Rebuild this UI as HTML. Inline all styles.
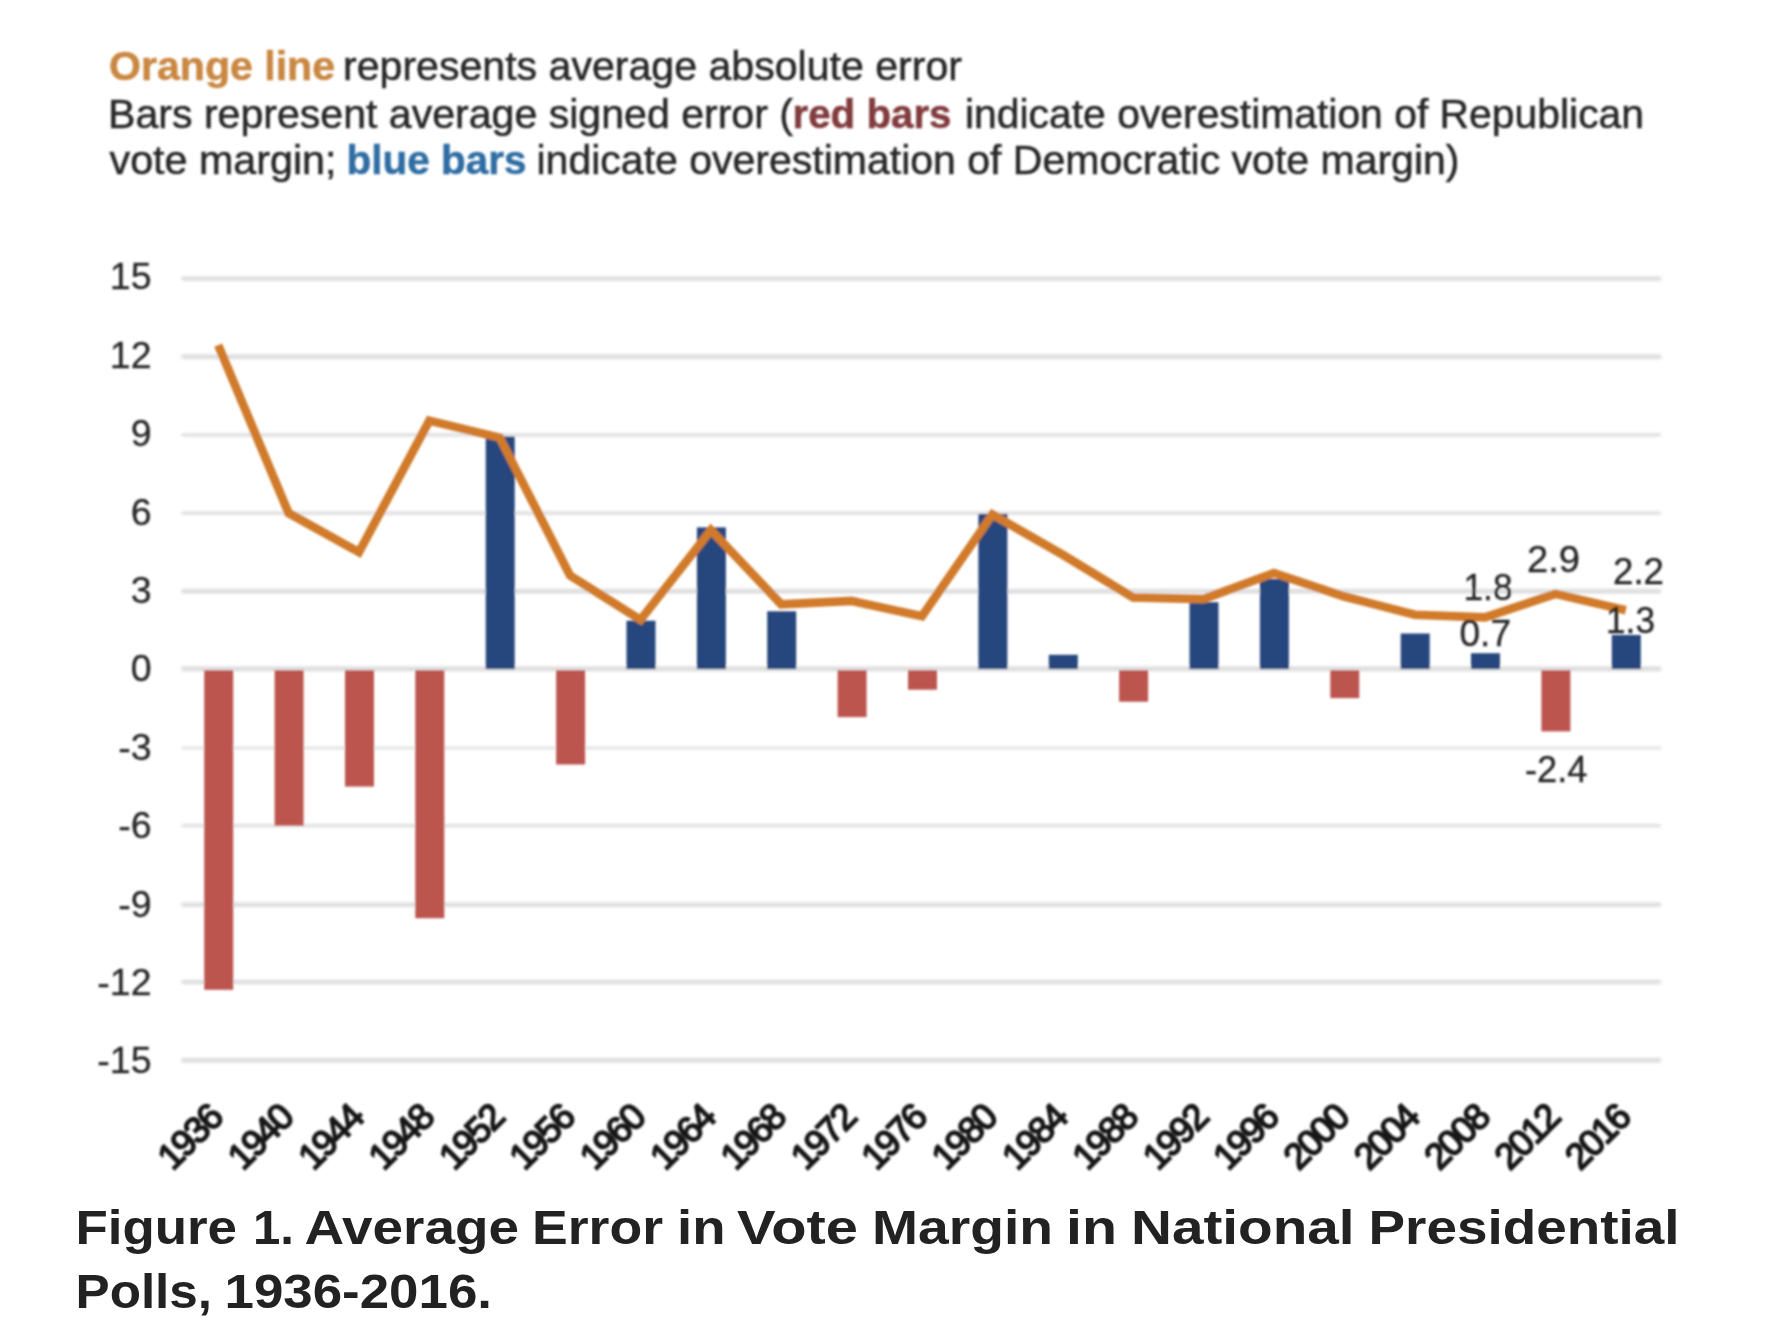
<!DOCTYPE html>
<html lang="en"><head><meta charset="utf-8"><title>Figure 1. Average Error in Vote Margin in National Presidential Polls, 1936-2016.</title>
<style>
html,body{margin:0;padding:0;background:#fff;}
body{width:1768px;height:1320px;overflow:hidden;position:relative;font-family:"Liberation Sans",sans-serif;}
figure,figcaption{margin:0;padding:0;display:block;}
svg{position:absolute;left:0;top:0;display:block;}
.chart text{font-family:"Liberation Sans",sans-serif;fill:#262626;stroke:#262626;stroke-width:0.5px;}
.cap text{font-family:"Liberation Sans",sans-serif;font-weight:bold;font-size:48px;fill:#222;}
</style></head><body>
<figure>
<svg class="chart" role="img" aria-label="Average error in vote margin in national presidential polls, 1936-2016" width="1768" height="1190" viewBox="0 0 1768 1190">
<defs><filter id="bl" x="-5%" y="-5%" width="110%" height="110%"><feGaussianBlur stdDeviation="1.05"/></filter><filter id="bl2" filterUnits="userSpaceOnUse" x="0" y="0" width="1768" height="1190"><feGaussianBlur stdDeviation="1.5 1.0"/></filter></defs>
<g filter="url(#bl)">
<text x="109.0" y="80.0" font-size="40.5" textLength="226.0" lengthAdjust="spacingAndGlyphs" font-weight="bold" style="fill:#c98742;stroke:#c98742">Orange line</text>
<text x="343.0" y="80.0" font-size="40.5" textLength="619.0" lengthAdjust="spacingAndGlyphs">represents average absolute error</text>
<text x="108.0" y="127.5" font-size="40.5" textLength="685.0" lengthAdjust="spacingAndGlyphs">Bars represent average signed error (</text>
<text x="792.5" y="127.5" font-size="40.5" textLength="159.0" lengthAdjust="spacingAndGlyphs" font-weight="bold" style="fill:#813a3c;stroke:#813a3c">red bars</text>
<text x="965.0" y="127.5" font-size="40.5" textLength="679.0" lengthAdjust="spacingAndGlyphs">indicate overestimation of Republican</text>
<text x="109.5" y="174.0" font-size="40.5" textLength="227.0" lengthAdjust="spacingAndGlyphs">vote margin;</text>
<text x="346.5" y="174.0" font-size="40.5" textLength="180.0" lengthAdjust="spacingAndGlyphs" font-weight="bold" style="fill:#2f6da3;stroke:#2f6da3">blue bars</text>
<text x="536.5" y="174.0" font-size="40.5" textLength="923.0" lengthAdjust="spacingAndGlyphs">indicate overestimation of Democratic vote margin)</text>
<g filter="url(#bl2)">
<line x1="181.5" y1="1060.2" x2="1661.0" y2="1060.2" stroke="#dcdcdc" stroke-width="4.4"/>
<line x1="181.5" y1="982.0" x2="1661.0" y2="982.0" stroke="#dcdcdc" stroke-width="4.2"/>
<line x1="181.5" y1="904.6" x2="1661.0" y2="904.6" stroke="#dcdcdc" stroke-width="4.2"/>
<line x1="181.5" y1="825.7" x2="1661.0" y2="825.7" stroke="#dcdcdc" stroke-width="3.0"/>
<line x1="181.5" y1="748.0" x2="1661.0" y2="748.0" stroke="#dcdcdc" stroke-width="2.6"/>
<line x1="181.5" y1="668.9" x2="1661.0" y2="668.9" stroke="#dcdcdc" stroke-width="4.6"/>
<line x1="181.5" y1="591.2" x2="1661.0" y2="591.2" stroke="#dcdcdc" stroke-width="4.4"/>
<line x1="181.5" y1="513.1" x2="1661.0" y2="513.1" stroke="#dcdcdc" stroke-width="3.2"/>
<line x1="181.5" y1="434.9" x2="1661.0" y2="434.9" stroke="#dcdcdc" stroke-width="3.2"/>
<line x1="181.5" y1="356.8" x2="1661.0" y2="356.8" stroke="#dcdcdc" stroke-width="4.4"/>
<line x1="181.5" y1="278.6" x2="1661.0" y2="278.6" stroke="#dcdcdc" stroke-width="4.4"/>
</g>
<text x="151.5" y="1073.2" font-size="37.5" text-anchor="end" style="stroke-width:0.3px">-15</text>
<text x="151.5" y="994.9" font-size="37.5" text-anchor="end" style="stroke-width:0.3px">-12</text>
<text x="151.5" y="916.5" font-size="37.5" text-anchor="end" style="stroke-width:0.3px">-9</text>
<text x="151.5" y="838.1" font-size="37.5" text-anchor="end" style="stroke-width:0.3px">-6</text>
<text x="151.5" y="759.7" font-size="37.5" text-anchor="end" style="stroke-width:0.3px">-3</text>
<text x="151.5" y="681.3" font-size="37.5" text-anchor="end" style="stroke-width:0.3px">0</text>
<text x="151.5" y="602.9" font-size="37.5" text-anchor="end" style="stroke-width:0.3px">3</text>
<text x="151.5" y="524.5" font-size="37.5" text-anchor="end" style="stroke-width:0.3px">6</text>
<text x="151.5" y="446.1" font-size="37.5" text-anchor="end" style="stroke-width:0.3px">9</text>
<text x="151.5" y="367.7" font-size="37.5" text-anchor="end" style="stroke-width:0.3px">12</text>
<text x="151.5" y="289.3" font-size="37.5" text-anchor="end" style="stroke-width:0.3px">15</text>
<rect x="204.2" y="670.2" width="29" height="319.6" fill="#bd5550"/>
<rect x="274.6" y="670.2" width="29" height="155.5" fill="#bd5550"/>
<rect x="345.0" y="670.2" width="29" height="116.4" fill="#bd5550"/>
<rect x="415.3" y="670.2" width="29" height="248.0" fill="#bd5550"/>
<rect x="485.7" y="436.5" width="29" height="232.6" fill="#27477d"/>
<rect x="556.1" y="670.2" width="29" height="94.3" fill="#bd5550"/>
<rect x="626.5" y="620.7" width="29" height="48.4" fill="#27477d"/>
<rect x="696.9" y="527.4" width="29" height="141.7" fill="#27477d"/>
<rect x="767.2" y="611.3" width="29" height="57.8" fill="#27477d"/>
<rect x="837.6" y="670.2" width="29" height="46.9" fill="#bd5550"/>
<rect x="908.0" y="670.2" width="29" height="19.5" fill="#bd5550"/>
<rect x="978.4" y="513.9" width="29" height="155.2" fill="#27477d"/>
<rect x="1048.8" y="654.8" width="29" height="14.3" fill="#27477d"/>
<rect x="1119.1" y="670.2" width="29" height="31.5" fill="#bd5550"/>
<rect x="1189.5" y="602.2" width="29" height="66.9" fill="#27477d"/>
<rect x="1259.9" y="579.0" width="29" height="90.1" fill="#27477d"/>
<rect x="1330.3" y="670.2" width="29" height="27.9" fill="#bd5550"/>
<rect x="1400.7" y="633.5" width="29" height="35.6" fill="#27477d"/>
<rect x="1471.0" y="653.2" width="29" height="15.9" fill="#27477d"/>
<rect x="1541.4" y="670.2" width="29" height="61.2" fill="#bd5550"/>
<rect x="1611.8" y="635.0" width="29" height="34.1" fill="#27477d"/>
<polyline points="218.2,345.1 288.6,513.1 359.0,552.2 429.3,420.6 499.7,437.6 570.1,575.6 640.5,619.9 710.9,530.0 781.2,604.3 851.6,600.9 922.0,616.3 992.4,514.4 1062.8,554.8 1133.1,597.5 1203.5,599.1 1273.9,573.0 1344.3,596.5 1414.7,614.7 1485.0,617.3 1555.4,593.9 1625.8,610.3" fill="none" stroke="#d07a2a" stroke-width="8.6" stroke-linejoin="miter" stroke-miterlimit="3"/>
<text x="1463.5" y="600.0" font-size="37.5" textLength="49.0" lengthAdjust="spacingAndGlyphs" style="stroke-width:0.35px">1.8</text>
<text x="1527.0" y="572.0" font-size="37.5" textLength="53.0" lengthAdjust="spacingAndGlyphs" style="stroke-width:0.35px">2.9</text>
<text x="1613.0" y="584.0" font-size="37.5" textLength="51.0" lengthAdjust="spacingAndGlyphs" style="stroke-width:0.35px">2.2</text>
<text x="1606.0" y="632.5" font-size="37.5" textLength="49.0" lengthAdjust="spacingAndGlyphs" style="stroke-width:0.35px">1.3</text>
<text x="1459.5" y="645.5" font-size="37.5" textLength="51.5" lengthAdjust="spacingAndGlyphs" style="stroke-width:0.35px">0.7</text>
<text x="1525.0" y="782.0" font-size="37.5" textLength="62.5" lengthAdjust="spacingAndGlyphs" style="stroke-width:0.35px">-2.4</text>
<text font-size="36.5" text-anchor="end" textLength="75" lengthAdjust="spacing" style="fill:#181818;stroke:#181818;stroke-width:1.8px" transform="translate(225.7 1118.5) rotate(-45)">1936</text>
<text font-size="36.5" text-anchor="end" textLength="75" lengthAdjust="spacing" style="fill:#181818;stroke:#181818;stroke-width:1.8px" transform="translate(296.1 1118.5) rotate(-45)">1940</text>
<text font-size="36.5" text-anchor="end" textLength="75" lengthAdjust="spacing" style="fill:#181818;stroke:#181818;stroke-width:1.8px" transform="translate(366.5 1118.5) rotate(-45)">1944</text>
<text font-size="36.5" text-anchor="end" textLength="75" lengthAdjust="spacing" style="fill:#181818;stroke:#181818;stroke-width:1.8px" transform="translate(436.8 1118.5) rotate(-45)">1948</text>
<text font-size="36.5" text-anchor="end" textLength="75" lengthAdjust="spacing" style="fill:#181818;stroke:#181818;stroke-width:1.8px" transform="translate(507.2 1118.5) rotate(-45)">1952</text>
<text font-size="36.5" text-anchor="end" textLength="75" lengthAdjust="spacing" style="fill:#181818;stroke:#181818;stroke-width:1.8px" transform="translate(577.6 1118.5) rotate(-45)">1956</text>
<text font-size="36.5" text-anchor="end" textLength="75" lengthAdjust="spacing" style="fill:#181818;stroke:#181818;stroke-width:1.8px" transform="translate(648.0 1118.5) rotate(-45)">1960</text>
<text font-size="36.5" text-anchor="end" textLength="75" lengthAdjust="spacing" style="fill:#181818;stroke:#181818;stroke-width:1.8px" transform="translate(718.4 1118.5) rotate(-45)">1964</text>
<text font-size="36.5" text-anchor="end" textLength="75" lengthAdjust="spacing" style="fill:#181818;stroke:#181818;stroke-width:1.8px" transform="translate(788.7 1118.5) rotate(-45)">1968</text>
<text font-size="36.5" text-anchor="end" textLength="75" lengthAdjust="spacing" style="fill:#181818;stroke:#181818;stroke-width:1.8px" transform="translate(859.1 1118.5) rotate(-45)">1972</text>
<text font-size="36.5" text-anchor="end" textLength="75" lengthAdjust="spacing" style="fill:#181818;stroke:#181818;stroke-width:1.8px" transform="translate(929.5 1118.5) rotate(-45)">1976</text>
<text font-size="36.5" text-anchor="end" textLength="75" lengthAdjust="spacing" style="fill:#181818;stroke:#181818;stroke-width:1.8px" transform="translate(999.9 1118.5) rotate(-45)">1980</text>
<text font-size="36.5" text-anchor="end" textLength="75" lengthAdjust="spacing" style="fill:#181818;stroke:#181818;stroke-width:1.8px" transform="translate(1070.3 1118.5) rotate(-45)">1984</text>
<text font-size="36.5" text-anchor="end" textLength="75" lengthAdjust="spacing" style="fill:#181818;stroke:#181818;stroke-width:1.8px" transform="translate(1140.6 1118.5) rotate(-45)">1988</text>
<text font-size="36.5" text-anchor="end" textLength="75" lengthAdjust="spacing" style="fill:#181818;stroke:#181818;stroke-width:1.8px" transform="translate(1211.0 1118.5) rotate(-45)">1992</text>
<text font-size="36.5" text-anchor="end" textLength="75" lengthAdjust="spacing" style="fill:#181818;stroke:#181818;stroke-width:1.8px" transform="translate(1281.4 1118.5) rotate(-45)">1996</text>
<text font-size="36.5" text-anchor="end" textLength="75" lengthAdjust="spacing" style="fill:#181818;stroke:#181818;stroke-width:1.8px" transform="translate(1351.8 1118.5) rotate(-45)">2000</text>
<text font-size="36.5" text-anchor="end" textLength="75" lengthAdjust="spacing" style="fill:#181818;stroke:#181818;stroke-width:1.8px" transform="translate(1422.2 1118.5) rotate(-45)">2004</text>
<text font-size="36.5" text-anchor="end" textLength="75" lengthAdjust="spacing" style="fill:#181818;stroke:#181818;stroke-width:1.8px" transform="translate(1492.5 1118.5) rotate(-45)">2008</text>
<text font-size="36.5" text-anchor="end" textLength="75" lengthAdjust="spacing" style="fill:#181818;stroke:#181818;stroke-width:1.8px" transform="translate(1562.9 1118.5) rotate(-45)">2012</text>
<text font-size="36.5" text-anchor="end" textLength="75" lengthAdjust="spacing" style="fill:#181818;stroke:#181818;stroke-width:1.8px" transform="translate(1633.3 1118.5) rotate(-45)">2016</text>
</g></svg>
<figcaption><svg class="cap" style="top:1190px" width="1768" height="130" viewBox="0 1190 1768 130">
<text y="1244.3"><tspan x="75.5" textLength="161.5" lengthAdjust="spacingAndGlyphs">Figure</tspan> <tspan x="253.0" textLength="41.0" lengthAdjust="spacingAndGlyphs">1.</tspan> <tspan x="304.5" textLength="214.5" lengthAdjust="spacingAndGlyphs">Average</tspan> <tspan x="532.0" textLength="131.0" lengthAdjust="spacingAndGlyphs">Error</tspan> <tspan x="677.0" textLength="48.5" lengthAdjust="spacingAndGlyphs">in</tspan> <tspan x="737.0" textLength="121.0" lengthAdjust="spacingAndGlyphs">Vote</tspan> <tspan x="872.0" textLength="181.0" lengthAdjust="spacingAndGlyphs">Margin</tspan> <tspan x="1066.0" textLength="51.0" lengthAdjust="spacingAndGlyphs">in</tspan> <tspan x="1131.0" textLength="223.5" lengthAdjust="spacingAndGlyphs">National</tspan> <tspan x="1368.5" textLength="311.0" lengthAdjust="spacingAndGlyphs">Presidential</tspan> </text>
<text y="1307.5"><tspan x="75.5" textLength="136.5" lengthAdjust="spacingAndGlyphs">Polls,</tspan> <tspan x="224.5" textLength="267.5" lengthAdjust="spacingAndGlyphs">1936-2016.</tspan> </text>
</svg></figcaption>
</figure>
</body></html>
